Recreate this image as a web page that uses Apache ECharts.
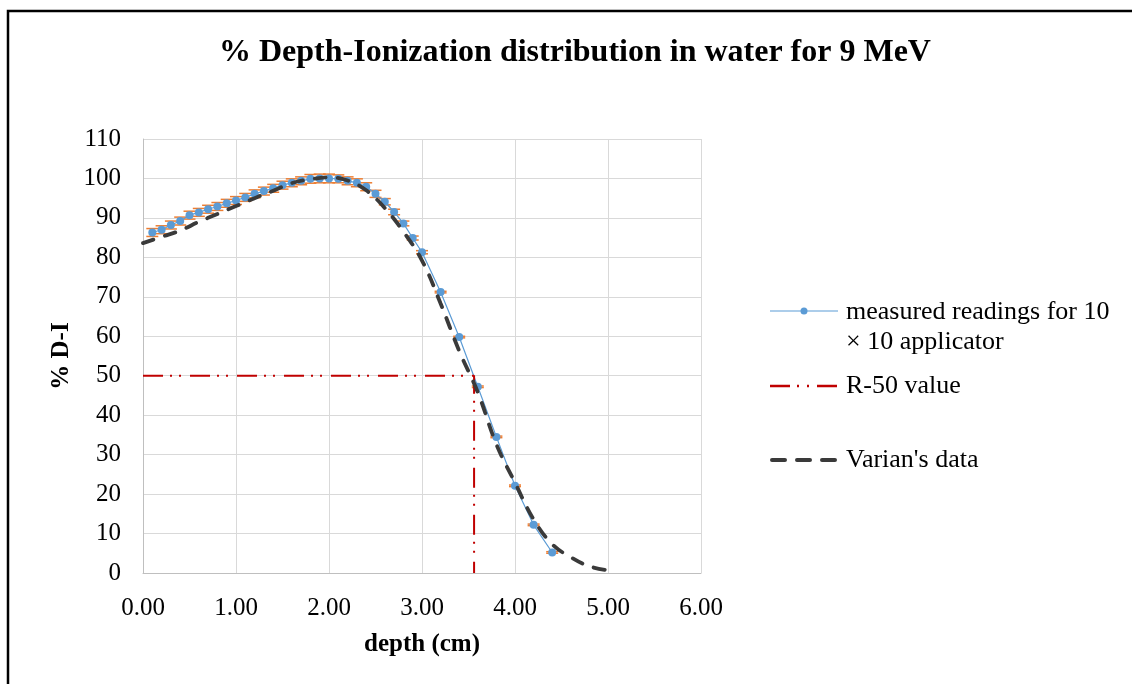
<!DOCTYPE html>
<html>
<head>
<meta charset="utf-8">
<script src="https://cdn.jsdelivr.net/npm/echarts@6/dist/echarts.min.js"></script>
<style>
html,body{margin:0;padding:0;background:#fff;}
#chart{width:1132px;height:684px;}
</style>
</head>
<body>
<div id="chart"></div>
<script>
// ---- data ----
const measuredDepth = [0.1,0.2,0.3,0.4,0.5,0.6,0.7,0.8,0.9,1.0,1.1,1.2,1.3,1.4,1.5,1.6,1.7,1.8,1.9,2.0,2.1,2.2,2.3,2.4,2.5,2.6,2.7,2.8,2.9,3.0,3.2,3.4,3.6,3.8,4.0,4.2,4.4];
const measuredDI    = [86.3,87.0,88.2,89.2,90.7,91.4,92.2,92.9,93.7,94.4,95.2,96.1,96.8,97.5,98.3,98.9,99.4,99.9,100.0,100.0,99.9,99.4,98.9,97.9,96.1,94.1,91.5,88.6,84.9,81.3,71.2,59.8,47.2,34.5,22.1,12.2,5.2];
const measuredErr   = [1.0,1.0,1.0,1.0,1.0,1.0,1.0,1.0,1.0,1.0,1.0,1.0,1.0,1.0,1.0,1.0,1.0,1.1,1.1,1.1,1.0,1.0,1.0,1.0,0.9,0.8,0.7,0.6,0.5,0.4,0.2,0.2,0.2,0.2,0.2,0.2,0.2];
const varianDepth = [0.0,0.2,0.4,0.6,0.8,1.0,1.2,1.4,1.6,1.8,2.0,2.2,2.4,2.6,2.8,3.0,3.2,3.4,3.6,3.8,4.0,4.2,4.4,4.6,4.8,5.0];
const varianDI    = [83.6,85.2,86.8,89.0,91.0,93.0,95.0,96.9,98.8,99.8,100.3,99.5,97.0,92.5,86.5,79.2,68.3,56.3,45.8,32.6,22.9,13.6,7.3,4.0,1.7,0.7];
const r50Depth = [0.0,3.56,3.56];
const r50DI    = [50,50,0];
const xTicks = [0,1,2,3,4,5,6];
const yTicks = [0,10,20,30,40,50,60,70,80,90,100,110];
const titleText = '% Depth-Ionization distribution in water for 9 MeV';
const xTitle = 'depth (cm)';
const yTitle = '% D-I';
const legendNames = ['measured readings for 10\n\u00d7 10 applicator', 'R-50 value', "Varian's data"];

// ---- styles ----
const FONT = '"Liberation Serif","Times New Roman",serif';
const BLUE = '#5B9BD5', ORANGE = '#ED7D31', RED = '#C00000', DARK = '#3a3a3a';
const R50DASH = [20,7,2,7,2,9];

const zip = (a,b) => a.map((v,i)=>[v,b[i]]);

const chart = echarts.init(document.getElementById('chart'), null, {renderer:'canvas'});
const option = {
  animation:false,
  backgroundColor:'#fff',
  title:{
    text:titleText, left:214, top:32,
    textStyle:{fontFamily:FONT,fontSize:32,fontWeight:'bold',color:'#000'}
  },
  grid:{left:143,right:431,top:139,bottom:111,containLabel:false},
  xAxis:{
    type:'value', min:xTicks[0], max:xTicks[xTicks.length-1], interval:1,
    axisLine:{show:true,lineStyle:{color:'#bfbfbf',width:1}},
    axisTick:{show:false},
    splitLine:{show:true,lineStyle:{color:'#d9d9d9',width:1}},
    axisLabel:{formatter:v=>v.toFixed(2),fontFamily:FONT,fontSize:25,color:'#000',margin:23}
  },
  yAxis:{
    type:'value', min:yTicks[0], max:yTicks[yTicks.length-1], interval:10,
    axisLine:{show:true,lineStyle:{color:'#bfbfbf',width:1}},
    axisTick:{show:false},
    splitLine:{show:true,lineStyle:{color:'#d9d9d9',width:1}},
    axisLabel:{fontFamily:FONT,fontSize:25,color:'#000',margin:22}
  },
  series:[
    {
      type:'custom', name:'err', z:2,
      data: measuredDepth.map((x,i)=>[x,measuredDI[i],measuredErr[i]]),
      renderItem:(params,api)=>{
        const x=api.value(0), y=api.value(1), e=api.value(2);
        const top=api.coord([x,y+e]), bot=api.coord([x,y-e]);
        const hw=6;
        const st={stroke:ORANGE,lineWidth:1.5};
        return {type:'group',children:[
          {type:'line',shape:{x1:top[0],y1:top[1],x2:bot[0],y2:bot[1]},style:st},
          {type:'line',shape:{x1:top[0]-hw,y1:top[1],x2:top[0]+hw,y2:top[1]},style:st},
          {type:'line',shape:{x1:bot[0]-hw,y1:bot[1],x2:bot[0]+hw,y2:bot[1]},style:st}
        ]};
      }
    },
    {
      type:'line', name:legendNames[0], z:3,
      data: zip(measuredDepth,measuredDI),
      symbol:'circle', symbolSize:8, showSymbol:true,
      lineStyle:{color:BLUE,width:1.2},
      itemStyle:{color:BLUE}
    },
    {
      type:'line', name:legendNames[1], z:4,
      data: zip(r50Depth,r50DI),
      symbol:'none',
      lineStyle:{color:RED,width:2,type:R50DASH}
    },
    {
      type:'line', name:legendNames[2], z:5,
      data: zip(varianDepth,varianDI),
      symbol:'none', smooth:0.4,
      lineStyle:{color:DARK,width:3.8,type:[11,12],cap:'round'}
    }
  ],
  graphic:[
    {type:'rect',shape:{x:8,y:11,width:1200,height:800},style:{fill:'none',stroke:'#000',lineWidth:2.5},silent:true},
    {type:'text',x:422,y:645,style:{text:xTitle,font:'bold 25px '+FONT,fill:'#000',textAlign:'center',textVerticalAlign:'middle'}},
    {type:'text',x:62,y:356,rotation:Math.PI/2,style:{text:yTitle,font:'bold 25px '+FONT,fill:'#000',textAlign:'center',textVerticalAlign:'middle'}},
    // legend
    {type:'line',shape:{x1:770,y1:311,x2:838,y2:311},style:{stroke:BLUE,lineWidth:1.2}},
    {type:'circle',shape:{cx:804,cy:311,r:3.5},style:{fill:BLUE}},
    {type:'text',x:846,y:312,style:{text:legendNames[0].split('\n')[0],font:'26px '+FONT,fill:'#000',textAlign:'left',textVerticalAlign:'middle'}},
    {type:'text',x:846,y:342,style:{text:legendNames[0].split('\n')[1],font:'26px '+FONT,fill:'#000',textAlign:'left',textVerticalAlign:'middle'}},
    {type:'line',shape:{x1:770,y1:386,x2:838,y2:386},style:{stroke:RED,lineWidth:2.5,lineDash:[20,7,2,8,2,8]}},
    {type:'text',x:846,y:386,style:{text:legendNames[1],font:'26px '+FONT,fill:'#000',textAlign:'left',textVerticalAlign:'middle'}},
    {type:'line',shape:{x1:772,y1:460,x2:836,y2:460},style:{stroke:DARK,lineWidth:4,lineDash:[13,12],lineCap:'round'}},
    {type:'text',x:846,y:460,style:{text:legendNames[2],font:'26px '+FONT,fill:'#000',textAlign:'left',textVerticalAlign:'middle'}}
  ]
};
chart.setOption(option);
</script>
</body>
</html>
